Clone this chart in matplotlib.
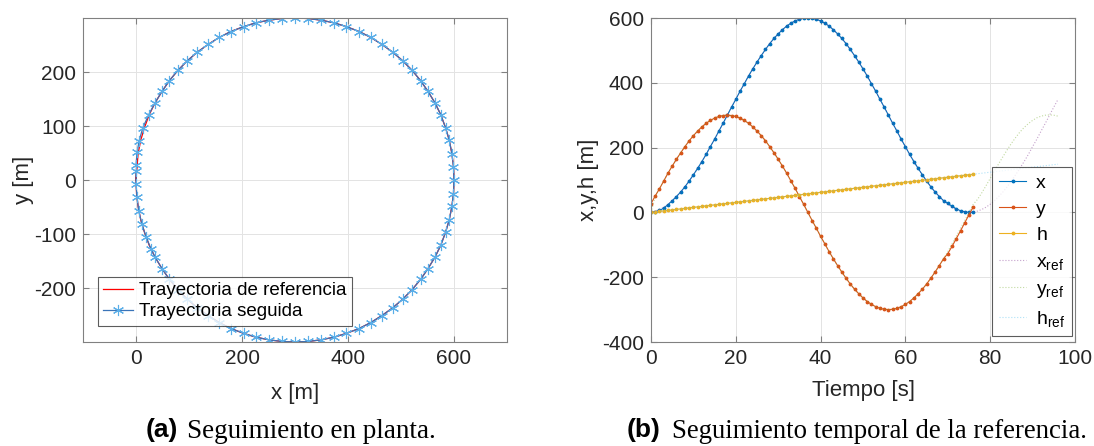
import matplotlib
matplotlib.use("Agg")
import matplotlib.pyplot as plt

plt.rcParams['font.family'] = ['Liberation Sans', 'DejaVu Sans']
plt.rcParams['mathtext.fontset'] = 'custom'
plt.rcParams['mathtext.rm'] = 'Liberation Sans'
plt.rcParams['mathtext.it'] = 'Liberation Sans'
plt.rcParams['axes.unicode_minus'] = False

# tiempo de la trayectoria seguida [s]
t = list(range(77))
# trayectoria seguida
x = [0, 2, 6, 13, 24,
     36, 49, 63, 79, 97, 116, 136, 157, 179, 203, 226, 251, 275, 300, 325, 349, 374, 397, 421, 443,
     464, 484, 503, 521, 537, 551, 564, 575, 584, 591, 596, 599, 600, 599, 596, 591, 584, 575, 564,
     551, 537, 521, 503, 484, 464, 443, 421, 397, 374, 349, 325, 300, 275, 251, 226, 203, 179, 157,
     136, 116, 97, 79, 63, 49, 36,
     28, 19, 11, 5, 2, 0, 0]
y = [27, 51, 73, 97, 121, 143, 164, 184, 203, 221, 237, 251, 264, 275, 284, 291, 296, 299, 300,
     299, 296, 291, 284, 275, 264, 251, 237, 221, 203, 184, 164, 143, 121, 97, 74, 49, 25, 0,
     -25, -49, -74, -97, -121, -143, -164, -184, -203, -221, -237, -251, -264, -275, -284, -291, -296, -299, -300,
     -299, -296, -291, -284, -275, -264, -251, -237, -221, -203, -184, -164, -143,
     -127, -105, -81, -57, -32, -7, 17]
h = [0, 1.6, 3.1, 4.7, 6.2, 7.8, 9.3, 10.9, 12.4, 14, 15.5, 17.1, 18.6, 20.2, 21.7, 23.3, 24.8, 26.4,
     27.9, 29.5, 31, 32.6, 34.1, 35.7, 37.2, 38.8, 40.3, 41.9, 43.4, 45, 46.5, 48.1, 49.6, 51.2, 52.7,
     54.3, 55.8, 57.4, 58.9, 60.5, 62, 63.6, 65.1, 66.7, 68.2, 69.8, 71.3, 72.9, 74.4, 76, 77.5, 79.1,
     80.6, 82.2, 83.7, 85.3, 86.8, 88.4, 89.9, 91.5, 93, 94.6, 96.1, 97.7, 99.2, 100.8, 102.3, 103.9,
     105.4, 107, 108.5, 110.1, 111.6, 113.2, 114.7, 116.3, 117.8]

# referencia
t_ref = list(range(97))
x_ref = [0, 4, 9, 16, 25, 36, 49, 63, 79, 97, 116, 136, 157, 179, 203, 226, 251, 275, 300,
         325, 349, 374, 397, 421, 443, 464, 484, 503, 521, 537, 551, 564, 575, 584, 591, 596, 599, 600,
         599, 596, 591, 584, 575, 564, 551, 537, 521, 503, 484, 464, 443, 421, 397, 374, 349, 325, 300,
         275, 251, 226, 203, 179, 157, 136, 116, 97, 79, 63, 49, 36, 25, 16, 9, 4, 1, 0, 1,
         4, 9, 16, 25, 36, 49, 63, 79, 97, 116, 136, 157, 179, 203, 226, 251, 275, 300, 325, 349]
y_ref = [0, 49, 74, 97, 121, 143, 164, 184, 203, 221, 237, 251, 264, 275, 284, 291, 296, 299, 300,
         299, 296, 291, 284, 275, 264, 251, 237, 221, 203, 184, 164, 143, 121, 97, 74, 49, 25, 0,
         -25, -49, -74, -97, -121, -143, -164, -184, -203, -221, -237, -251, -264, -275, -284, -291, -296, -299, -300,
         -299, -296, -291, -284, -275, -264, -251, -237, -221, -203, -184, -164, -143, -121, -97, -74, -49, -25, 0, 25,
         40, 60, 82, 105, 128, 150, 172, 193, 213, 231, 248, 262, 274, 284, 292, 297, 300, 301, 300, 297]
h_ref = h + [119.4, 120.9, 122.5, 124, 125.6, 127.1, 128.7, 130.2, 131.8, 133.3, 134.9, 136.4, 138,
             139.5, 141.1, 142.6, 144.2, 145.7, 147.3, 148.8]

c_blue = '#0072BD'
c_orange = '#D95319'
c_yellow = '#EDB120'
c_purple = '#7E2F8E'
c_green = '#77AC30'
c_cyan = '#4DBEEE'
grid_c = '#e3e3e3'
spine_c = '#808080'
txt_c = '#262626'


def style_ax(ax):
    ax.grid(True, color=grid_c, linewidth=0.7)
    ax.set_axisbelow(True)
    for s in ax.spines.values():
        s.set_color(spine_c)
        s.set_linewidth(0.8)
    ax.tick_params(direction='in', top=True, right=True, length=4, color=spine_c,
                   labelsize=15, labelcolor=txt_c, pad=5)


fig = plt.figure(figsize=(10.94, 4.46), dpi=100)

# (a) planta
ax1 = fig.add_axes([83/1094, 1-342/446, 424/1094, 324/446])
ax1.plot(x_ref[:77], y_ref[:77], color='red', linewidth=0.9, label='Trayectoria de referencia')
ax1.plot(x, y, color='#3A74B8', linewidth=0.9, marker=(6, 2, 0), markersize=8,
         markeredgecolor='#5AAEE8', markeredgewidth=0.8, label='Trayectoria seguida')
ax1.set_xlim(-100, 700)
ax1.set_ylim(-300, 300)
ax1.set_xticks([0, 200, 400, 600])
ax1.set_yticks([-200, -100, 0, 100, 200])
style_ax(ax1)
ax1.set_xlabel('x [m]', fontsize=16, color=txt_c, labelpad=11)
ax1.set_ylabel('y [m]', fontsize=16, color=txt_c, labelpad=0)
leg1 = ax1.legend(loc='lower left', bbox_to_anchor=(0.035, 0.05), fontsize=13.5,
                  frameon=True, fancybox=False, handlelength=1.6, handletextpad=0.3,
                  borderpad=0.3, labelspacing=0.2, borderaxespad=0)
leg1.get_frame().set_edgecolor('#333333')
leg1.get_frame().set_linewidth(0.8)

# (b) temporal
ax2 = fig.add_axes([651/1094, 1-342/446, 424/1094, 324/446])
ax2.plot(t, x, color=c_blue, linewidth=0.8, marker='.', markersize=3.5, label='x')
ax2.plot(t, y, color=c_orange, linewidth=0.8, marker='.', markersize=3.5, label='y')
ax2.plot(t, h, color=c_yellow, linewidth=0.8, marker='.', markersize=3.5, label='h')
ax2.plot(t_ref, x_ref, color=c_purple, linewidth=0.8, linestyle=':', alpha=0.45, label=r'x$_{\mathrm{ref}}$')
ax2.plot(t_ref, y_ref, color=c_green, linewidth=0.8, linestyle=':', alpha=0.45, label=r'y$_{\mathrm{ref}}$')
ax2.plot(t_ref, h_ref, color=c_cyan, linewidth=0.8, linestyle=':', alpha=0.45, label=r'h$_{\mathrm{ref}}$')
ax2.set_xlim(0, 100)
ax2.set_ylim(-400, 600)
ax2.set_xticks([0, 20, 40, 60, 80, 100])
ax2.set_yticks([-400, -200, 0, 200, 400, 600])
style_ax(ax2)
ax2.set_xlabel('Tiempo [s]', fontsize=16, color=txt_c, labelpad=9)
ax2.set_ylabel('x,y,h [m]', fontsize=16, color=txt_c, labelpad=2)
leg2 = ax2.legend(loc='lower right', bbox_to_anchor=(0.993, 0.02), fontsize=14,
                  frameon=True, fancybox=False, handlelength=1.4, handletextpad=0.5,
                  borderpad=0.35, labelspacing=0.45, borderaxespad=0)
leg2.get_frame().set_edgecolor('#333333')
leg2.get_frame().set_linewidth(0.8)

# pies de figura
fig.text(178/1094, 1-430/446, '(a)', ha='right', va='center', fontsize=19, fontweight='bold',
         family=['Liberation Sans Narrow', 'Liberation Sans'])
fig.text(187/1094, 1-431/446, 'Seguimiento en planta.', ha='left', va='center', fontsize=19.5,
         family='Liberation Serif')
fig.text(661/1094, 1-430/446, '(b)', ha='right', va='center', fontsize=19, fontweight='bold',
         family=['Liberation Sans Narrow', 'Liberation Sans'])
fig.text(672/1094, 1-431/446, 'Seguimiento temporal de la referencia.', ha='left', va='center',
         fontsize=19.3, family='Liberation Serif')

fig.savefig('out.png', dpi=100)
